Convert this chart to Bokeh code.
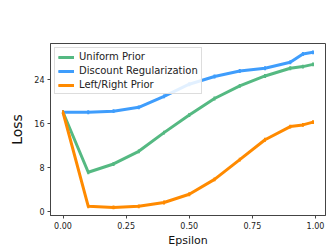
from bokeh.plotting import figure
from bokeh.models import ColumnDataSource, Legend, LegendItem, FixedTicker, Range1d
from bokeh.embed import file_html
from bokeh.resources import INLINE

eps = [0.0, 0.1, 0.2, 0.3, 0.4, 0.5, 0.6, 0.7, 0.8, 0.9, 0.95, 0.99]
uniform = [18.0, 7.1, 8.6, 10.9, 14.3, 17.5, 20.5, 22.8, 24.6, 26.0, 26.3, 26.7]
discount = [18.0, 18.0, 18.2, 18.9, 20.9, 23.1, 24.5, 25.5, 26.0, 27.1, 28.6, 28.9]
leftright = [18.0, 0.9, 0.7, 0.9, 1.6, 3.1, 5.8, 9.4, 13.0, 15.4, 15.7, 16.2]
err = [0.35] * len(eps)

series = [
    ("Uniform Prior", uniform, "#55b982"),
    ("Discount Regularization", discount, "#3f9dfc"),
    ("Left/Right Prior", leftright, "#ff8a00"),
]

x_ticks = [0.0, 0.25, 0.5, 0.75, 1.0]
x_labels = {0.0: "0.00", 0.25: "0.25", 0.5: "0.50", 0.75: "0.75", 1.0: "1.00"}
y_ticks = [0, 8, 16, 24]

p = figure(width=332, height=249, output_backend="svg", toolbar_location=None,
           x_range=Range1d(-0.0495, 1.0395), y_range=Range1d(-0.77, 30.5),
           min_border_left=50, min_border_right=7, min_border_top=43, min_border_bottom=31)
p.background_fill_color = "white"
p.border_fill_color = "white"
p.outline_line_color = "#444444"
p.outline_line_width = 1
p.xgrid.visible = False
p.ygrid.visible = False

items = []
for name, vals, col in series:
    src = ColumnDataSource(dict(x=eps, y=vals,
                                lo=[v - e for v, e in zip(vals, err)],
                                hi=[v + e for v, e in zip(vals, err)]))
    ln = p.line("x", "y", source=src, line_color=col, line_width=3, line_join="round")
    sg = p.segment(x0="x", y0="lo", x1="x", y1="hi", source=src, line_color=col, line_width=2)
    items.append(LegendItem(label=name, renderers=[ln, sg]))

legend = Legend(items=items, location="top_left")
legend.label_text_font = "DejaVu Sans"
legend.label_text_font_size = "10px"
legend.label_text_color = "#222222"
legend.label_height = 10
legend.glyph_height = 10
legend.glyph_width = 16
legend.spacing = 3
legend.padding = 3
legend.margin = 4
legend.border_line_color = "#dddddd"
legend.border_line_alpha = 1.0
legend.background_fill_alpha = 0.85
p.add_layout(legend)

for ax in (p.xaxis, p.yaxis):
    ax.major_label_text_font = "DejaVu Sans"
    ax.major_label_text_font_size = "8px"
    ax.major_label_text_color = "#222222"
    ax.axis_label_text_font = "DejaVu Sans"
    ax.axis_label_text_font_style = "normal"
    ax.axis_label_text_color = "#111111"
    ax.axis_line_color = "#444444"
    ax.major_tick_line_color = "#444444"
    ax.major_tick_out = 3
    ax.major_tick_in = 0
    ax.minor_tick_line_color = None

p.xaxis.ticker = FixedTicker(ticks=x_ticks)
p.xaxis.major_label_overrides = x_labels
p.yaxis.ticker = FixedTicker(ticks=y_ticks)
p.xaxis.axis_label = "Epsilon"
p.yaxis.axis_label = "Loss"
p.xaxis.axis_label_text_font_size = "11px"
p.yaxis.axis_label_text_font_size = "14px"
p.xaxis.axis_label_standoff = 2
p.yaxis.axis_label_standoff = 6
p.xaxis.major_label_standoff = 3
p.yaxis.major_label_standoff = 3

open("out.html", "w").write(file_html(p, INLINE))
